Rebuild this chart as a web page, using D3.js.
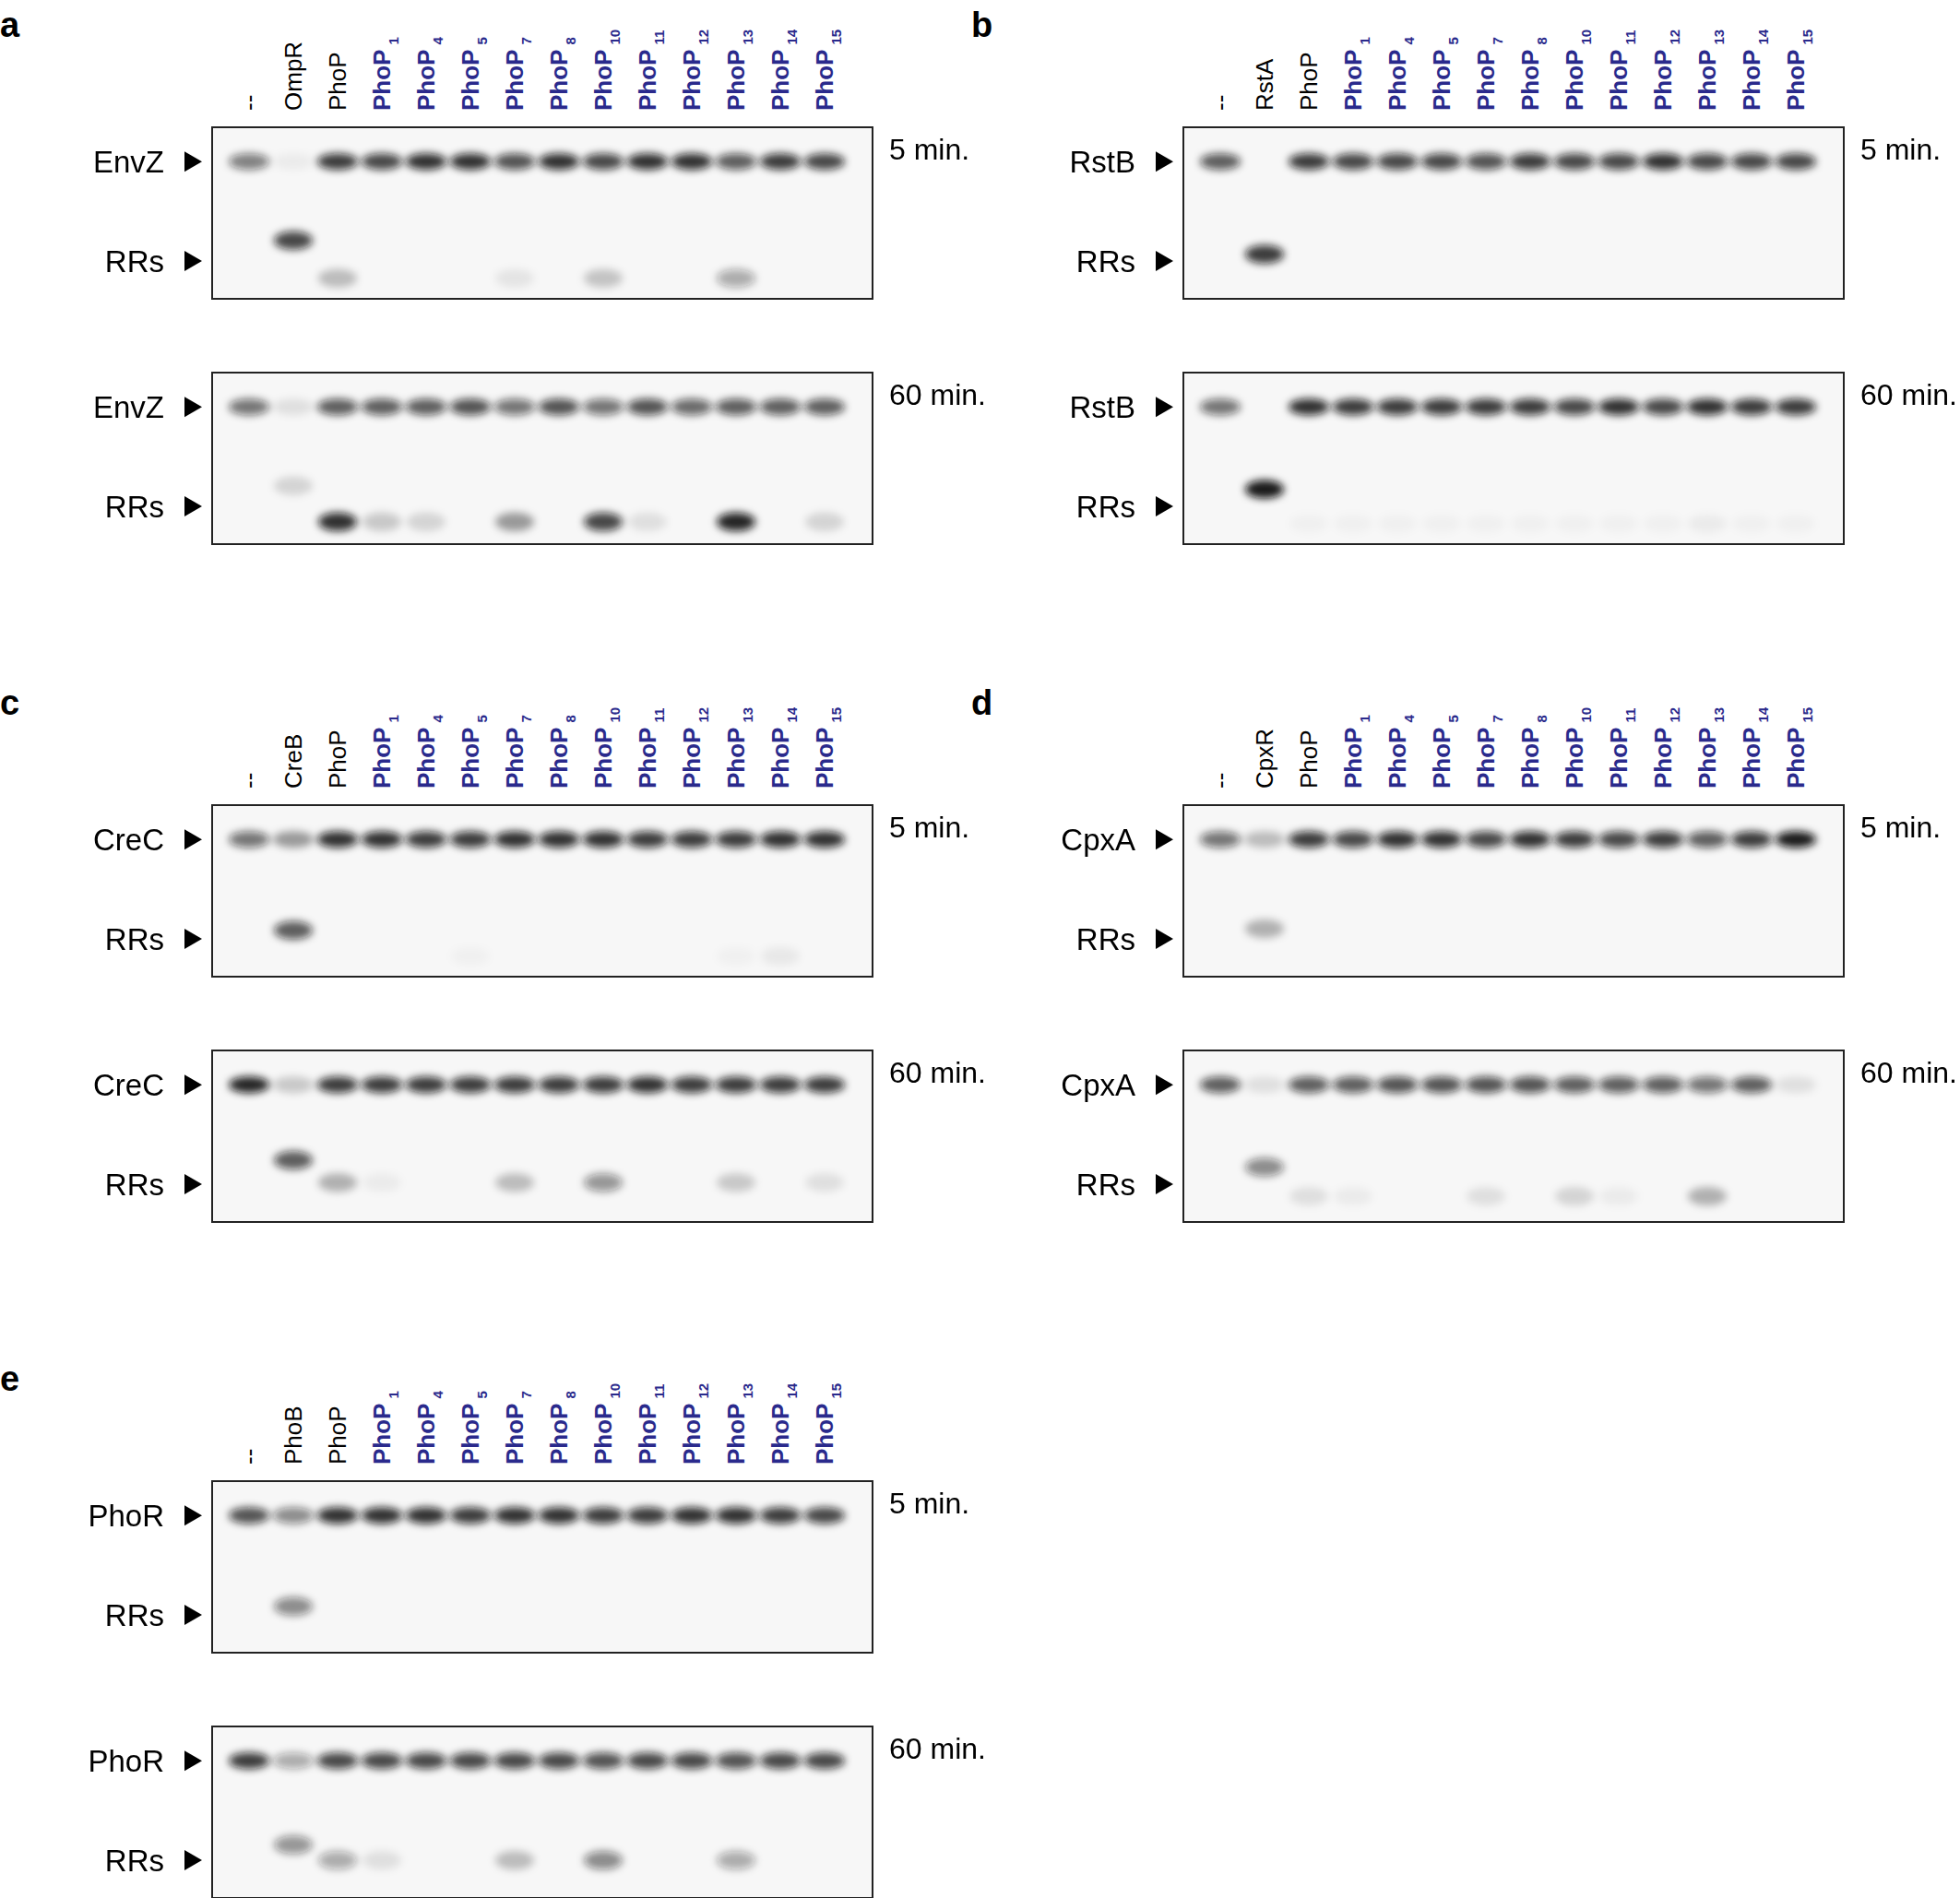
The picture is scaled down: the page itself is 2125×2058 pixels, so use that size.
<!DOCTYPE html>
<html>
<head>
<meta charset="utf-8">
<script src="https://cdn.jsdelivr.net/npm/d3@7"></script>
<style>
body { margin: 0; background: #fff; }
text { font-family: Arial, "Liberation Sans", sans-serif; }
</style>
</head>
<body>
<div id="vis"></div>
<script>
// lane labels (subscripts after "PhoP")
const lanes_a = ["--", "OmpR", "PhoP", "1", "4", "5", "7", "8", "10", "11", "12", "13", "14", "15"];
const lanes_b = ["--", "RstA", "PhoP", "1", "4", "5", "7", "8", "10", "11", "12", "13", "14", "15"];
const lanes_c = ["--", "CreB", "PhoP", "1", "4", "5", "7", "8", "10", "11", "12", "13", "14", "15"];
const lanes_d = ["--", "CpxR", "PhoP", "1", "4", "5", "7", "8", "10", "11", "12", "13", "14", "15"];
const lanes_e = ["--", "PhoB", "PhoP", "1", "4", "5", "7", "8", "10", "11", "12", "13", "14", "15"];
const kinases = ["EnvZ", "RstB", "CreC", "CpxA", "PhoR"];
const letters = ["a", "b", "c", "d", "e"];
const times = ["5 min.", "60 min."];

// band intensities 0..1
const hk5_a = [0.55, 0.05, 0.85, 0.8, 0.9, 0.9, 0.75, 0.9, 0.8, 0.9, 0.9, 0.7, 0.85, 0.8];
const rr5_a = [0, 0.8, 0.25, 0, 0, 0, 0.08, 0, 0.22, 0, 0, 0.35, 0, 0];
const hk60_a = [0.6, 0.1, 0.7, 0.7, 0.7, 0.75, 0.6, 0.75, 0.6, 0.75, 0.65, 0.7, 0.7, 0.7];
const rr60_a = [0, 0.15, 0.9, 0.2, 0.15, 0, 0.4, 0, 0.8, 0.1, 0, 0.95, 0, 0.15];

const hk5_b = [0.7, 0, 0.85, 0.8, 0.8, 0.8, 0.75, 0.85, 0.8, 0.8, 0.9, 0.8, 0.8, 0.8];
const rr5_b = [0, 0.85, 0, 0, 0, 0, 0, 0, 0, 0, 0, 0, 0, 0];
const hk60_b = [0.6, 0, 0.9, 0.85, 0.85, 0.85, 0.85, 0.85, 0.8, 0.9, 0.8, 0.9, 0.85, 0.85];
const rr60_b = [0, 1, 0.03, 0.03, 0.03, 0.03, 0.03, 0.03, 0.03, 0.03, 0.03, 0.05, 0.03, 0.03];

const hk5_c = [0.6, 0.4, 0.9, 0.9, 0.85, 0.85, 0.9, 0.9, 0.9, 0.85, 0.85, 0.85, 0.9, 0.9];
const rr5_c = [0, 0.7, 0, 0, 0, 0.03, 0, 0, 0, 0, 0, 0.03, 0.06, 0];
const hk60_c = [0.95, 0.2, 0.85, 0.85, 0.85, 0.85, 0.85, 0.85, 0.85, 0.9, 0.85, 0.85, 0.85, 0.85];
const rr60_c = [0, 0.7, 0.3, 0.05, 0, 0, 0.25, 0, 0.45, 0, 0, 0.2, 0, 0.1];

const hk5_d = [0.6, 0.25, 0.85, 0.8, 0.9, 0.9, 0.8, 0.9, 0.85, 0.8, 0.85, 0.7, 0.85, 1];
const rr5_d = [0, 0.3, 0, 0, 0, 0, 0, 0, 0, 0, 0, 0, 0, 0];
const hk60_d = [0.7, 0.1, 0.7, 0.7, 0.75, 0.75, 0.75, 0.75, 0.7, 0.7, 0.7, 0.6, 0.7, 0.1];
const rr60_d = [0, 0.5, 0.1, 0.05, 0, 0, 0.1, 0, 0.15, 0.05, 0, 0.3, 0, 0];

const hk5_e = [0.75, 0.5, 0.9, 0.9, 0.9, 0.85, 0.9, 0.9, 0.85, 0.85, 0.9, 0.9, 0.85, 0.8];
const rr5_e = [0, 0.5, 0, 0, 0, 0, 0, 0, 0, 0, 0, 0, 0, 0];
const hk60_e = [0.85, 0.35, 0.8, 0.8, 0.8, 0.8, 0.8, 0.8, 0.75, 0.8, 0.8, 0.75, 0.8, 0.8];
const rr60_e = [0, 0.45, 0.35, 0.1, 0, 0, 0.25, 0, 0.5, 0, 0, 0.35, 0, 0];

// relative vertical position of cognate RR band and of other RR bands [5 min, 60 min]
const cogY = [[0.66, 0.66], [0.74, 0.68], [0.73, 0.64], [0.72, 0.68], [0.73, 0.69]];
const rrY = [[0.88, 0.87], [0.88, 0.88], [0.88, 0.77], [0.88, 0.85], [0.88, 0.78]];

const panels = [
    { lanes: lanes_a, hk: [hk5_a, hk60_a], rr: [rr5_a, rr60_a] },
    { lanes: lanes_b, hk: [hk5_b, hk60_b], rr: [rr5_b, rr60_b] },
    { lanes: lanes_c, hk: [hk5_c, hk60_c], rr: [rr5_c, rr60_c] },
    { lanes: lanes_d, hk: [hk5_d, hk60_d], rr: [rr5_d, rr60_d] },
    { lanes: lanes_e, hk: [hk5_e, hk60_e], rr: [rr5_e, rr60_e] }
];

const W = 2125, H = 2058;
const GEL_W = 716, GEL_H = 186;
const ORIGINS = [[230, 138], [1283, 138], [230, 873], [1283, 873], [230, 1606]];
const GEL2_DY = 266;
const BLUE = "#2a2a8c";

const svg = d3.select("#vis").append("svg").attr("width", W).attr("height", H);

const defs = svg.append("defs");
defs.append("filter").attr("id", "blur").attr("x", "-50%").attr("y", "-100%")
    .attr("width", "200%").attr("height", "300%")
    .append("feGaussianBlur").attr("stdDeviation", 4);

const X = d3.scalePoint().domain(d3.range(14)).range([40, 664]);
const OP = d3.scaleLinear().domain([0, 1]).range([0, 0.95]);

panels.forEach((p, pi) => {
    const [ox, oy] = ORIGINS[pi];
    const g = svg.append("g").attr("transform", `translate(${ox},${oy})`);

    // panel letter
    g.append("text").attr("x", -230).attr("y", -98).attr("font-size", 38)
        .attr("font-weight", "bold").text(letters[pi]);

    // lane labels
    p.lanes.forEach((l, i) => {
        const t = g.append("text")
            .attr("transform", `translate(${X(i) + 9},-18) rotate(-90)`)
            .attr("font-size", 26);
        if (i < 3) {
            t.attr("fill", "#000").text(l);
        } else {
            t.attr("fill", BLUE).attr("font-weight", "bold").text("PhoP");
            t.append("tspan").attr("font-size", 15).attr("dx", 5).attr("dy", 9).text(l);
        }
    });

    [0, 1].forEach(ti => {
        const gg = g.append("g").attr("transform", `translate(0,${ti * GEL2_DY})`);
        gg.append("rect").attr("width", GEL_W).attr("height", GEL_H)
            .attr("fill", "#f7f7f7").attr("stroke", "#222").attr("stroke-width", 2);

        const bands = gg.append("g").attr("filter", "url(#blur)");
        bands.selectAll(".hk").data(p.hk[ti]).enter().append("ellipse")
            .attr("cx", (d, i) => X(i)).attr("cy", GEL_H * 0.2)
            .attr("rx", 22).attr("ry", 9)
            .attr("fill", "#111").attr("opacity", d => OP(d));
        bands.selectAll(".rr").data(p.rr[ti]).enter().append("ellipse")
            .attr("cx", (d, i) => X(i))
            .attr("cy", (d, i) => GEL_H * (i === 1 ? cogY[pi][ti] : rrY[pi][ti]))
            .attr("rx", 21).attr("ry", 10)
            .attr("fill", "#111").attr("opacity", d => OP(d));

        // row labels with arrows
        [[kinases[pi], 0.2], ["RRs", 0.78]].forEach(([lab, fy]) => {
            const y = GEL_H * fy;
            gg.append("text").attr("x", -52).attr("y", y).attr("text-anchor", "end")
                .attr("dominant-baseline", "central").attr("font-size", 33).text(lab);
            gg.append("path").attr("d", `M${-30},${y - 11}L${-11},${y}L${-30},${y + 11}Z`).attr("fill", "#000");
        });

        gg.append("text").attr("x", GEL_W + 18).attr("y", 35).attr("font-size", 32).text(times[ti]);
    });
});
</script>
</body>
</html>
